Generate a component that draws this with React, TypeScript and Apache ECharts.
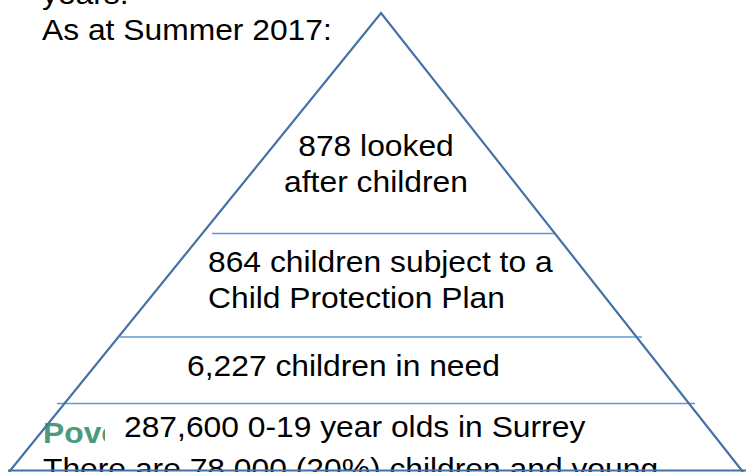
import React, { useEffect, useRef } from "react";
import * as echarts from "echarts";

// Pyramid levels (top to bottom), each a list of text lines
const topLabel: string[] = ["878 looked", "after children"];
const secondLabel: string[] = ["864 children subject to a", "Child Protection Plan"];
const thirdLabel: string[] = ["6,227 children in need"];
const baseLabel: string[] = ["287,600 0-19 year olds in Surrey"];
const headerLines: string[] = ["years.", "As at Summer 2017:"];
const footerHeading = "Poverty";
const footerLine = "There are 78,000 (20%) children and young";

const FONT = "'Liberation Sans', Arial, Helvetica, sans-serif";
const FS = 30;
const SX = 1.06;
const MID = 0.3465 * FS; // baseline -> middle offset

export default function App() {
  const ref = useRef<HTMLDivElement>(null);
  useEffect(() => {
    if (!ref.current) return;
    const chart = echarts.init(ref.current, undefined, { renderer: "svg" });

    const txt = (
      text: string,
      x: number,
      baseline: number,
      align: "left" | "center" = "left",
      extra: any = {}
    ) => ({
      type: "text",
      x,
      y: baseline - MID,
      scaleX: SX,
      z: extra.z ?? 10,
      style: {
        text,
        x: 0,
        y: 0,
        fill: extra.fill ?? "#000000",
        fontSize: FS,
        fontFamily: FONT,
        fontWeight: extra.fontWeight ?? "normal",
        align,
        verticalAlign: "middle",
      },
    });

    const line = (x1: number, y1: number, x2: number, y2: number, stroke: string, w: number, z = 20) => ({
      type: "line",
      z,
      shape: { x1, y1, x2, y2 },
      style: { stroke, lineWidth: w },
    });

    const triColor = "#4472a6";
    const sepColor = "#5b9bd5";

    const elements: any[] = [
      // header
      txt(headerLines[0], 42, 4),
      txt(headerLines[1], 42, 40),
      // footer heading partially hidden
      txt(footerHeading, 43, 443, "left", { fill: "#4a9a7b", fontWeight: "bold", z: 5 }),
      txt(footerLine, 43, 479, "left", { z: 5 }),
      // white box behind base label
      {
        type: "rect",
        z: 8,
        shape: { x: 105, y: 408, width: 490, height: 45 },
        style: { fill: "#ffffff" },
      },
      // level labels
      txt(topLabel[0], 376, 156, "center"),
      txt(topLabel[1], 376, 192, "center"),
      txt(secondLabel[0], 208, 272),
      txt(secondLabel[1], 208, 308),
      txt(thirdLabel[0], 187, 376),
      txt(baseLabel[0], 124, 437),
      // separators
      line(212, 233.5, 555, 233.5, sepColor, 1.5),
      line(120, 337, 642, 337, sepColor, 1.5),
      line(57, 403.5, 695, 403.5, sepColor, 1.5),
      line(8, 470.5, 746, 470.5, triColor, 2),
      // triangle
      {
        type: "polyline",
        z: 21,
        shape: { points: [[9, 472], [381, 13], [743, 472]] },
        style: { stroke: triColor, lineWidth: 2.2, fill: "none" },
      },
    ];

    chart.setOption({
      animation: false,
      backgroundColor: "#ffffff",
      graphic: { elements },
    });
    return () => chart.dispose();
  }, []);

  return (
    <div
      ref={ref}
      style={{ position: "absolute", left: 0, top: 0, width: 747, height: 472, overflow: "hidden" }}
    />
  );
}
